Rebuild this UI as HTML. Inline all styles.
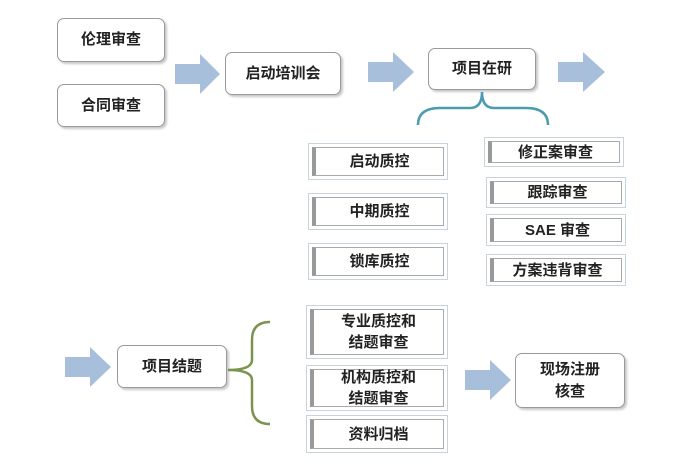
<!DOCTYPE html>
<html><head><meta charset="utf-8"><style>
body{margin:0;width:685px;height:469px;background:#fff;position:relative;overflow:hidden;font-family:"Liberation Sans","Noto Sans CJK SC",sans-serif;font-weight:bold;color:#222}
.r{position:absolute;border:1.5px solid #9a9a9a;border-radius:7px;background:#fff;box-shadow:2px 2px 2px #c8c8c8;display:flex;align-items:center;justify-content:center;font-size:15px;text-align:center;line-height:22px;box-sizing:border-box}
.q{position:absolute;border:1px solid #c8d4dc;background:#fff;box-sizing:border-box;padding:3px}
.q div{width:100%;height:100%;border:1px solid #aaa;border-left:4px solid #999;box-sizing:border-box;display:flex;align-items:center;justify-content:center;font-size:15px;line-height:21px;text-align:center}
</style></head><body>
<div class="r" style="left:57px;top:18px;width:108px;height:44px">伦理审查</div>
<div class="r" style="left:57px;top:84px;width:108px;height:43px">合同审查</div>
<div class="r" style="left:225px;top:52px;width:116px;height:43px">启动培训会</div>
<div class="r" style="left:428px;top:48px;width:108px;height:42px">项目在研</div>
<div class="r" style="left:117px;top:345px;width:110px;height:43px">项目结题</div>
<div class="r" style="left:515px;top:353px;width:110px;height:55px">现场注册<br>核查</div>
<svg width="685" height="469" style="position:absolute;left:0;top:0">
<g fill="#a8bfdc">
<polygon points="175,64 200,64 200,54 220,74 200,94 200,84 175,84"/>
<polygon points="368,62 393,62 393,52 414,72 393,92 393,82 368,82"/>
<polygon points="558,62 583,62 583,52 605,72 583,92 583,82 558,82"/>
<polygon points="65,357 90,357 90,347 111,367 90,387 90,377 65,377"/>
<polygon points="465,370 490,370 490,360 511,380 490,400 490,390 465,390"/>
</g>
<path d="M418,125 Q418,108 440,108 L470,108 Q482,108 482,92 Q482,108 494,108 L526,108 Q548,108 548,125" fill="none" stroke="#4a9cb0" stroke-width="2.5"/>
<path d="M270,322 Q252,322 252,340 L252,360 Q252,370 228,370 Q252,370 252,380 L252,406 Q252,424 270,424" fill="none" stroke="#7a9450" stroke-width="2.5"/>
</svg>
<div class="q" style="left:308px;top:143px;width:140px;height:37px"><div>启动质控</div></div>
<div class="q" style="left:308px;top:193px;width:140px;height:37px"><div>中期质控</div></div>
<div class="q" style="left:308px;top:243px;width:140px;height:37px"><div>锁库质控</div></div>
<div class="q" style="left:484px;top:137px;width:140px;height:30px"><div>修正案审查</div></div>
<div class="q" style="left:486px;top:177px;width:140px;height:31px"><div>跟踪审查</div></div>
<div class="q" style="left:486px;top:214px;width:140px;height:32px"><div>SAE 审查</div></div>
<div class="q" style="left:486px;top:254px;width:140px;height:32px"><div>方案违背审查</div></div>
<div class="q" style="left:306px;top:305px;width:142px;height:54px"><div>专业质控和<br>结题审查</div></div>
<div class="q" style="left:306px;top:365px;width:142px;height:46px"><div>机构质控和<br>结题审查</div></div>
<div class="q" style="left:306px;top:415px;width:142px;height:38px"><div>资料归档</div></div>
</body></html>
